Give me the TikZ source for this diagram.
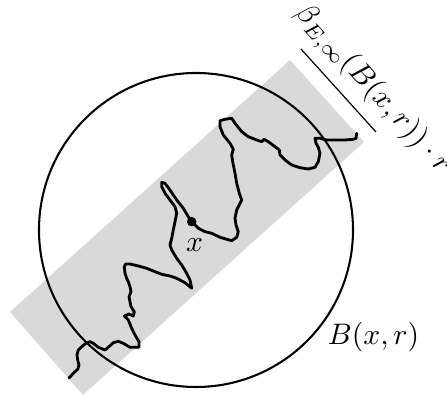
\documentclass[tikz,border=0pt]{standalone}
\usepackage{amsmath,amssymb}
\usepackage{tikz}
\usetikzlibrary{positioning, calc}
\tikzset{
    strip/.style={fill=gray!30, draw=none},
    ball/.style={line width=0.7pt},
    walk/.style={line width=0.95pt, line join=round, line cap=round},
    dot/.style={circle, fill, inner sep=0pt, minimum size=3.2pt},
    width_line/.style={thin}
}

\begin{document}
\begin{tikzpicture}[x=0.337pt, y=-0.337pt]
    \useasboundingbox (0,0) rectangle (447,399);
    % Strip
    \fill [strip] (10,312) -- (290,60) -- (364,142) -- (83,395) -- cycle;
    
    % Ball
    \draw [ball] (196,230) circle [radius=157];
    
    % Path
    \draw [walk] plot coordinates {(69,378) (73.3,373.3) (77.7,369.3) (79,365) (77.7,360) (77,355) (78.3,350) (81.7,346.7) (86.7,342.7) (90,341.7) (93.3,343.3) (98.3,347.3) (105,350) (108.3,347.3) (113.3,342.7) (118.3,341.3) (123.3,343.3) (130,347.3) (139,347.3) (139,341.7) (135,335) (131.7,328.3) (128.3,320) (124.3,316) (129,314) (133.3,316) (134.3,311.7) (131,306.7) (130,301.7) (129,296.7) (131,291.7) (130,286.7) (128.3,281.7) (126.7,278.3) (125,273.3) (124.3,266.7) (125.7,264) (130,264) (138.3,266) (146.7,268.3) (155,271.7) (161.7,274.3) (170,276) (176.7,278.3) (185,282.7) (191.7,288.3) (190,280) (186.7,273.3) (181.7,265) (176.7,258.3) (171.7,250) (170,245) (171.7,238.3) (173.3,230) (175,221.7) (176.7,213.3) (175,206.7) (170,200) (165,193.3) (161.7,186.7) (161.7,182.3) (165,183.3) (170,190) (176.7,200) (183.3,208.3) (188.3,216.7) (191.7,221.7) (198.3,228.3) (205,231.7) (211.7,233.3) (220,237.3) (226.7,239.3) (231.7,240.7) (236.7,237.3) (238.3,231.7) (236,225) (235,218.3) (236.7,210) (241.7,200) (239.3,193.3) (236.7,183.3) (235,173.3) (232.7,161.7) (231.7,155) (233.3,149.3) (230,143.3) (223.3,135) (220,126.7) (220,120.7) (225,119.3) (231.7,118.3) (235,123.3) (241.7,131.7) (248.3,136.7) (256.7,140) (261.7,141.7) (264,139.3) (268.3,141.7) (275,146.7) (279.3,150) (280,155) (285,160) (291.7,165) (300,167.7) (308.3,169) (315,167.3) (318.3,161.7) (320,153.3) (318.3,147.3) (316,143.3) (315,138.3) (320,138.3) (326.7,140) (336.7,140) (345,140) (353.3,139.3) (356,138.3) (356.7,133.3)};
    
    % Labels
    \node (pt) [dot] at (191.7,221.7) {};
    \node (xlab) [below=0.5pt of pt, xshift=1pt] {$x$};
    \node (blab) at (373.5,337.5) {$B(x,r)$};
    
    % Width
    \coordinate (w1) at (301,49);
    \coordinate (w2) at (376,132);
    \draw [width_line] (w1) -- node (wlab) [above, sloped, pos=0.7] {$\beta_{E,\infty}(B(x,r))\cdot r$} (w2);
\end{tikzpicture}
\end{document}
